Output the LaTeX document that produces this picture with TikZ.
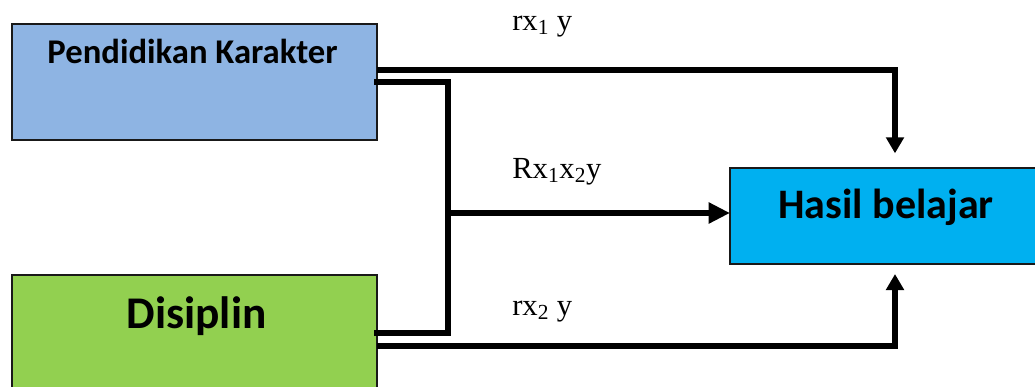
\documentclass[tikz,border=0pt]{standalone}
\usepackage{fontspec}
\setmainfont{Liberation Serif}
\newfontfamily\boxfont{Carlito}
\usetikzlibrary{arrows.meta,calc}
\definecolor{pkblue}{HTML}{8EB4E3}
\definecolor{dgreen}{HTML}{92D050}
\definecolor{hbblue}{HTML}{00B0F0}
\begin{document}
\begin{tikzpicture}[x=0.75pt,y=-0.75pt,
  boxstyle/.style={draw=black!90,line width=1.1pt,inner sep=0pt,outer sep=0pt},
  boxtext/.style={anchor=base,inner sep=0pt},
  conn/.style={line width=4.2pt,line cap=rect,line join=miter},
  arr/.style={conn,line cap=butt,-{Triangle[width=13pt,length=12pt]}},
  bigarr/.style={conn,line cap=butt,-{Triangle[width=15pt,length=16pt]}},
  lbl/.style={font=\fontsize{23}{26}\selectfont,anchor=base west,inner sep=0pt}]
\useasboundingbox (0,0) rectangle (1035,386);
\clip (0,0) rectangle (1035,386);
\node[boxstyle,fill=pkblue,minimum width=273.75pt,minimum height=87pt,anchor=north west] (pk) at (12,24) {};
\node[boxstyle,fill=dgreen,minimum width=273.75pt,minimum height=112pt,anchor=north west] (ds) at (12,275) {};
\node[boxstyle,fill=hbblue,minimum width=247.5pt,minimum height=72pt,anchor=north west] (hb) at (730,168) {};
\node[boxtext,font=\boxfont\bfseries\fontsize{26}{30}\selectfont] (pkt) at ($(pk.north)+(-2,39)$) {Pendidikan Karakter};
\node[boxtext,font=\boxfont\bfseries\fontsize{34}{38}\selectfont] (dst) at ($(ds.north)+(2,53)$) {Disiplin};
\node[boxtext,font=\boxfont\bfseries\fontsize{31.5}{36}\selectfont] (hbt) at ($(hb.north)+(-9,50)$) {Hasil belajar};
\coordinate (j) at (448,213);
\draw[arr,shorten >=11pt] ($(pk.north east)+(0,46)$) -| (hb.north);
\draw[conn] (pk.east) -| (j);
\draw[conn] ($(ds.north east)+(0,58)$) -| (j);
\draw[bigarr] (j) -- (j -| hb.west);
\draw[arr,shorten >=7.5pt] ($(ds.north east)+(0,71)$) -| (hb.south);
\node[lbl] (l1) at (512,30) {rx\textsubscript{1} y};
\node[lbl] (l2) at (512,178) {Rx\textsubscript{1}x\textsubscript{2}y};
\node[lbl] (l3) at (512,315) {rx\textsubscript{2} y};
\end{tikzpicture}
\end{document}
